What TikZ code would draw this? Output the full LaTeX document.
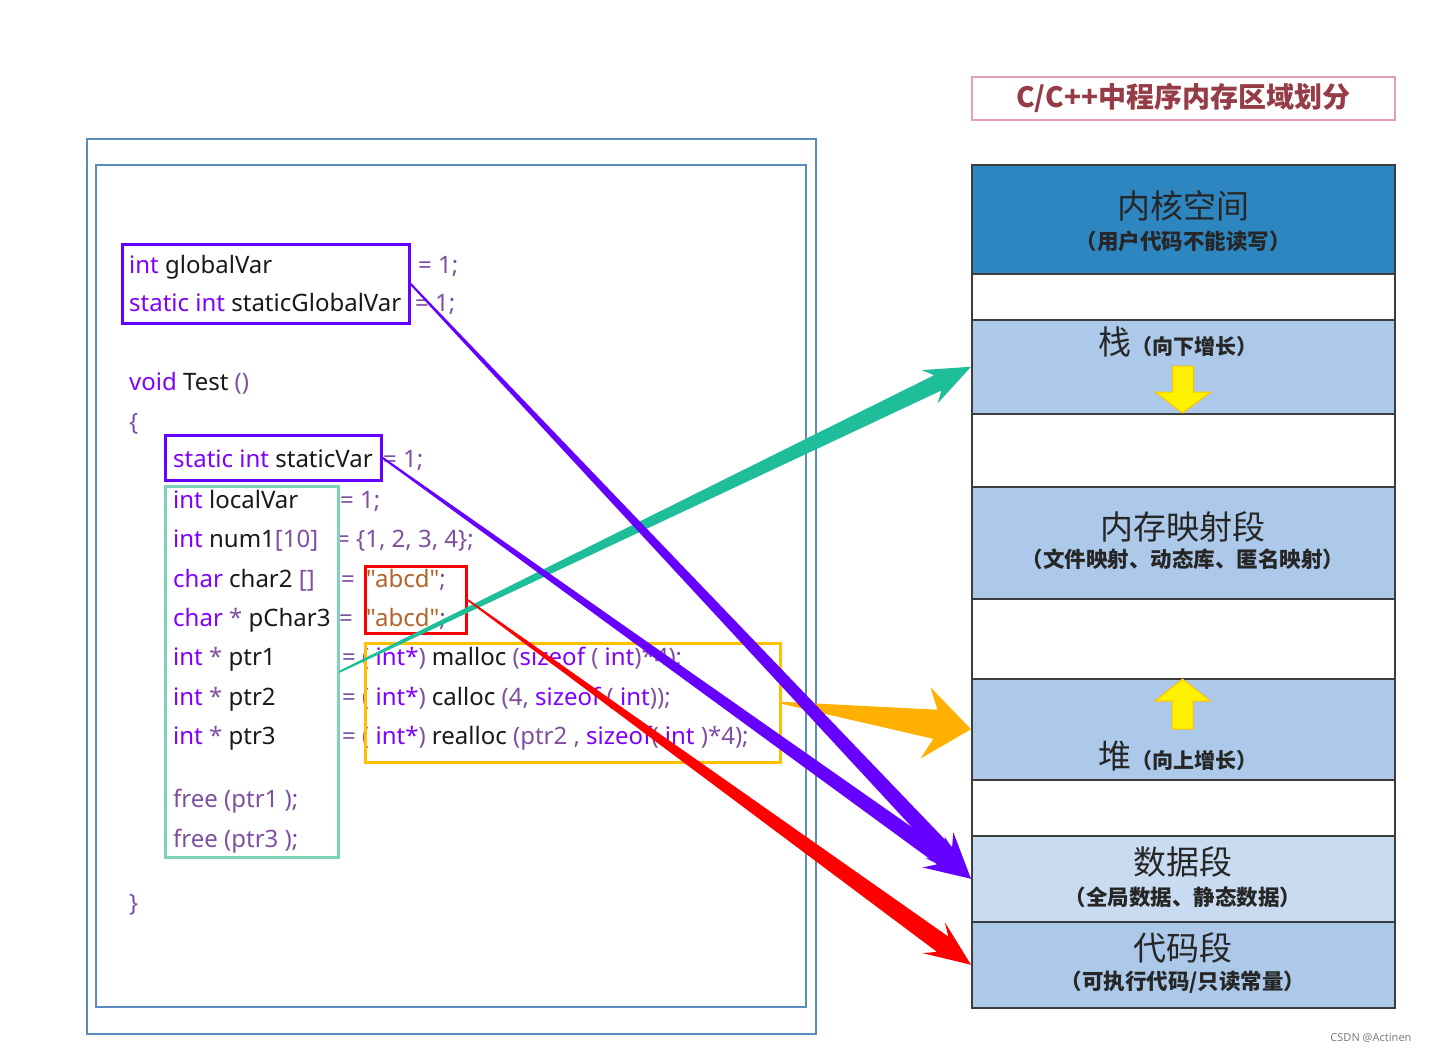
\documentclass[tikz,border=0pt]{standalone}
\usepackage{fontspec}
\setmainfont{Noto Sans}
\newfontfamily\codefont{Noto Sans}
\newfontfamily\cjk{Noto Sans CJK SC}
\usetikzlibrary{calc}
\definecolor{kw}{RGB}{128,0,255}
\definecolor{op}{RGB}{128,80,160}
\definecolor{strc}{RGB}{180,100,40}
\definecolor{idc}{RGB}{25,25,25}
\definecolor{framec}{RGB}{90,140,190}
\definecolor{purp}{RGB}{102,0,255}
\definecolor{tealc}{RGB}{30,190,155}
\definecolor{mint}{RGB}{125,210,185}
\definecolor{gold}{RGB}{255,192,0}
\definecolor{orng}{RGB}{255,176,0}
\definecolor{kern}{RGB}{46,134,193}
\definecolor{seg}{RGB}{172,201,234}
\definecolor{segl}{RGB}{201,219,240}
\definecolor{segb}{RGB}{60,60,60}
\definecolor{titlec}{RGB}{150,60,70}
\definecolor{titleb}{RGB}{230,160,180}
\newcommand\CK[1]{\textcolor{kw}{#1}}
\newcommand\CO[1]{\textcolor{op}{#1}}
\newcommand\CS[1]{\textcolor{strc}{#1}}
% color, from, to, half start, half shaft, junction, barb back, half barb
\newcommand\taperarrow[8]{%
  \coordinate (tj) at ($(#3)!#6!(#2)$);
  \coordinate (tb) at ($(#3)!#7!(#2)$);
  \fill[#1] ($(#2)!#4!90:(#3)$) -- ($(tj)!#5!90:(#3)$) -- ($(tb)!#8!90:(#3)$)
     -- (#3) -- ($(tb)!#8!-90:(#3)$) -- ($(tj)!#5!-90:(#3)$) -- ($(#2)!#4!-90:(#3)$) -- cycle;
}
\begin{document}
\begin{tikzpicture}[x=1pt,y=-1pt,
  region/.style={draw=segb, line width=1.5pt, anchor=north west, minimum width=423pt, inner sep=0pt},
  big/.style={font=\cjk\fontsize{33}{36}\selectfont, text=black!85},
  small/.style={font=\cjk\bfseries\fontsize{21.5}{24}\selectfont, text=black!85},
  codebox/.style={line width=2.5pt, anchor=north west, inner sep=0pt},
  code/.style={anchor=base west, inner sep=0pt, font=\codefont\fontsize{24}{28}\selectfont, text=idc},
  frame/.style={draw=framec, line width=2pt, anchor=north west, inner sep=0pt},
  yarrow/.style={fill=yellow, draw=gold, line width=1pt, line join=miter}
]
\useasboundingbox (0,0) rectangle (1431,1053);
\fill[white] (0,0) rectangle (1431,1053);

% frames
\node[frame, minimum width=729pt, minimum height=895pt] (outer) at (86,138) {};
\node[frame, minimum width=710pt, minimum height=842pt] (inner) at (95,164) {};

% title
\node[draw=titleb, line width=1.5pt, anchor=north west, minimum width=423pt, minimum height=43pt,
  inner sep=0pt, font=\cjk\bfseries\fontsize{28}{31}\selectfont, text=titlec] (title) at (971,76) {C/C++中程序内存区域划分};

% memory regions
\node[region, fill=kern, minimum height=109pt] (kernel) at (971,164) {};
\node[region, fill=white, minimum height=46pt] (gapa) at (971,273) {};
\node[region, fill=seg, minimum height=94pt] (stack) at (971,319) {};
\node[region, fill=white, minimum height=73pt] (gapb) at (971,413) {};
\node[region, fill=seg, minimum height=112pt] (mmap) at (971,486) {};
\node[region, fill=white, minimum height=80pt] (gapc) at (971,598) {};
\node[region, fill=seg, minimum height=101pt] (heap) at (971,678) {};
\node[region, fill=white, minimum height=56pt] (gapd) at (971,779) {};
\node[region, fill=segl, minimum height=86pt] (data) at (971,835) {};
\node[region, fill=seg, minimum height=86pt] (code) at (971,921) {};

\node[big] (kt) at (1183,206) {内核空间};
\node[small] (ks) at (1183,241) {（用户代码不能读写）};
\node[big] (st) at (1178,342) {栈{\bfseries\fontsize{21}{24}\selectfont（向下增长）}};
\node[big] (mt) at (1183,527) {内存映射段};
\node[small] (ms) at (1183,559) {（文件映射、动态库、匿名映射）};
\node[big] (ht) at (1178,756) {堆{\bfseries\fontsize{21}{24}\selectfont（向上增长）}};
\node[big] (dt) at (1183,862) {数据段};
\node[small] (ds) at (1183,897) {（全局数据、静态数据）};
\node[big] (ct) at (1183,948) {代码段};
\node[small] (cs) at (1183,982) {（可执行代码/只读常量）};

% yellow arrows
\draw[yarrow] (1172.5,366) -- (1193.5,366) -- (1193.5,392) -- (1211,392) -- (1182.5,413)
  -- (1155,392) -- (1172.5,392) -- cycle;
\draw[yarrow] (1172,729) -- (1193,729) -- (1193,701) -- (1210.5,701) -- (1182.5,679)
  -- (1155,701) -- (1172,701) -- cycle;

% code
\node[code] (l1) at (129,273) {\CK{int} globalVar};
\node[code] (e1) at (418,273) {\CO{= 1;}};
\node[code] (l2) at (129,311) {\CK{static int} staticGlobalVar};
\node[code] (e2) at (415,311) {\CO{= 1;}};
\node[code] (l3) at (129,390) {\CK{void} Test \CO{()}};
\node[code] (l4) at (129,430) {\CO{\{}};
\node[code] (l5) at (173,467) {\CK{static int} staticVar};
\node[code] (e5) at (383,467) {\CO{= 1;}};
\node[code] (l6) at (173,508) {\CK{int} localVar};
\node[code] (e6) at (340,508) {\CO{= 1;}};
\node[code] (l7) at (173,547) {\CK{int} num1\CO{[10]}};
\node[code] (e7) at (336,547) {\CO{= \{1, 2, 3, 4\};}};
\node[code] (l8) at (173,587) {\CK{char} char2 \CO{[]}};
\node[code] (e8) at (341,587) {\CO{=}};
\node[code] (s8) at (366,587) {\CS{"abcd"}\CO{;}};
\node[code] (l9) at (173,626) {\CK{char} \CO{*} pChar3};
\node[code] (e9) at (339,626) {\CO{=}};
\node[code] (s9) at (366,626) {\CS{"abcd"}\CO{;}};
\node[code] (l10) at (173,665) {\CK{int} \CO{*} ptr1};
\node[code] (e10) at (342,665) {\CO{= (} \CK{int*}\CO{)} malloc \CO{(}\CK{sizeof} \CO{(} \CK{int}\CO{)*4);}};
\node[code] (l11) at (173,705) {\CK{int} \CO{*} ptr2};
\node[code] (e11) at (342,705) {\CO{= (} \CK{int*}\CO{)} calloc \CO{(4,} \CK{sizeof} \CO{(} \CK{int}\CO{));}};
\node[code] (l12) at (173,744) {\CK{int} \CO{*} ptr3};
\node[code] (e12) at (342,744) {\CO{= (} \CK{int*}\CO{)} realloc \CO{(ptr2 ,} \CK{sizeof}\CO{(} \CK{int} \CO{)*4);}};
\node[code] (l13) at (173,807) {\CO{free (ptr1 );}};
\node[code] (l14) at (173,847) {\CO{free (ptr3 );}};
\node[code] (l15) at (129,911) {\CO{\}}};

% highlight boxes
\node[codebox, draw=purp, minimum width=287pt, minimum height=79pt] (box1) at (121,243) {};
\node[codebox, draw=purp, minimum width=216pt, minimum height=45pt] (box2) at (164,434) {};
\node[codebox, draw=mint, minimum width=173pt, minimum height=371pt] (tealbox) at (164,485) {};
\node[codebox, draw=red, minimum width=101pt, minimum height=67pt] (redbox) at (364,565) {};
\node[codebox, draw=gold, minimum width=415pt, minimum height=119pt] (orbox) at (364,642) {};

% arrows
\taperarrow{tealc}{tealbox.east}{stack.west}{1pt}{8.5pt}{37pt}{46pt}{18.5pt}
\taperarrow{orng}{orbox.east}{heap.west}{1pt}{14.7pt}{36pt}{46pt}{36pt}
\taperarrow{red}{redbox.east}{code.west}{0.8pt}{9.5pt}{35pt}{46pt}{19pt}
\taperarrow{purp}{box2.east}{data.west}{1pt}{8pt}{36pt}{46pt}{19pt}
\taperarrow{purp}{box1.east}{data.west}{1pt}{8pt}{36pt}{46pt}{19pt}

\node[font=\fontsize{11}{13}\selectfont, text=gray] (wm) at (1371,1038) {CSDN @Actinen};
\end{tikzpicture}
\end{document}
